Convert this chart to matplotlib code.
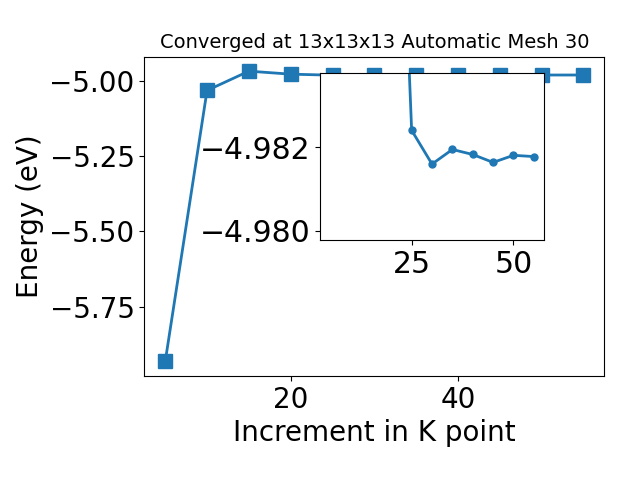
import matplotlib
matplotlib.use("Agg")
import matplotlib.pyplot as plt

# Main series
kpoints = [5, 10, 15, 20, 25, 30, 35, 40, 45, 50, 55]
energy = [-5.932, -5.033, -4.969, -4.979, -4.9824, -4.9816, -4.98195,
          -4.98183, -4.98164, -4.98181, -4.98178]

# Inset series (as drawn in the zoomed inset)
inset_k = [20, 25, 30, 35, 40, 45, 50, 55]
inset_energy = [-4.9945, -4.98241, -4.98160, -4.98195, -4.98183,
                -4.98164, -4.98181, -4.98178]
inset_xticks = [25, 50]
inset_yticks = [-4.982, -4.980]

title = "Converged at 13x13x13 Automatic Mesh 30"

fig = plt.figure(figsize=(6.4, 4.8), dpi=100)
ax = fig.add_axes([0.2255, 0.2167, 0.7188, 0.6653])
ax.plot(kpoints, energy, marker='s', markersize=10, linewidth=2, color='C0')
ax.set_xlabel("Increment in K point", fontsize=20)
ax.set_ylabel("Energy (eV)", fontsize=20)
ax.tick_params(labelsize=20)
ax.set_title(title, fontsize=14)

ins = fig.add_axes([0.5, 0.5, 0.35, 0.3485])
ins.plot(inset_k, inset_energy, marker='o', markersize=5, linewidth=2, color='C0')
ins.set_xlim(ax.get_xlim())
ins.set_ylim(-4.97978, -4.98379)
ins.set_xticks(inset_xticks)
ins.set_yticks(inset_yticks)
ins.set_yticklabels([f"\u2212{abs(v):.3f}" for v in inset_yticks])
ins.tick_params(labelsize=21.5)

fig.savefig("out.png", dpi=100)
